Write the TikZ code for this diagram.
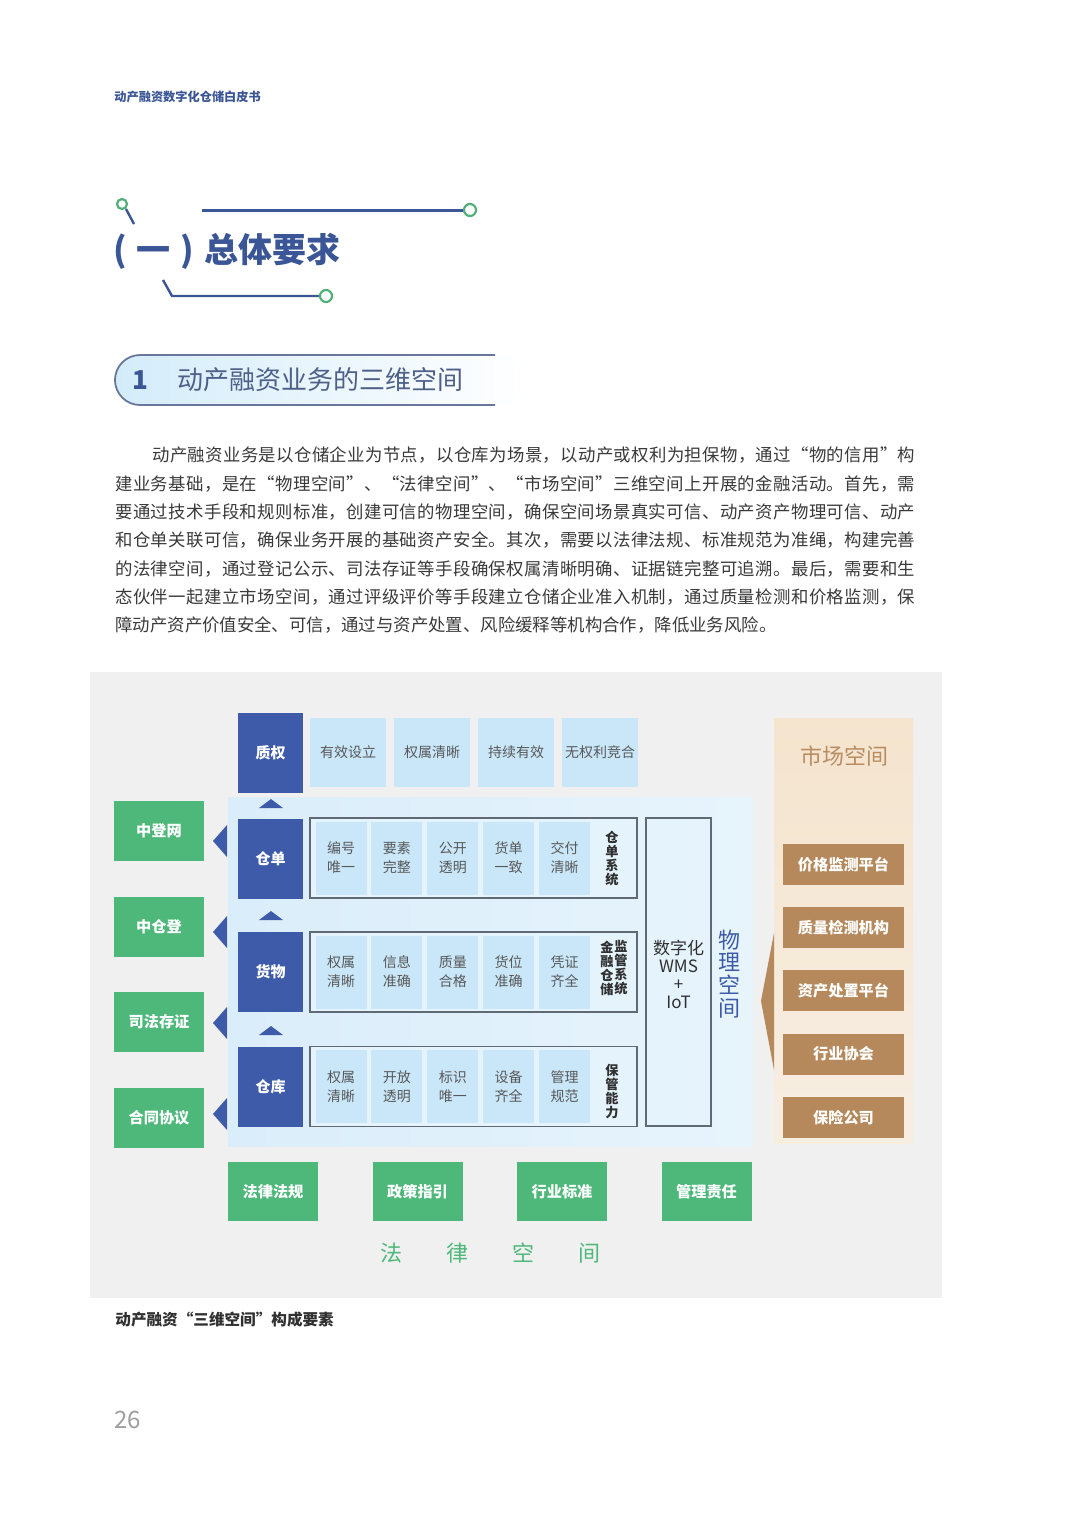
\documentclass[tikz,border=0pt]{standalone}
\usepackage{fontspec}
\setmainfont{Noto Sans CJK SC}
\usetikzlibrary{positioning}

% colours
\definecolor{qblue}{RGB}{61,91,168}
\definecolor{qtitle}{RGB}{58,86,150}
\definecolor{qsec}{RGB}{78,96,136}
\definecolor{qgreen}{RGB}{77,184,122}
\definecolor{qring}{RGB}{80,176,120}
\definecolor{qbrown}{RGB}{181,137,92}
\definecolor{qbrowntxt}{RGB}{184,140,96}
\definecolor{qcell}{RGB}{201,231,249}
\definecolor{qpanelL}{RGB}{218,237,250}
\definecolor{qpanelR}{RGB}{231,244,252}
\definecolor{qinner}{RGB}{228,243,252}
\definecolor{qpeachT}{RGB}{245,228,206}
\definecolor{qpeachB}{RGB}{247,238,226}
\definecolor{qframe}{RGB}{96,106,116}
\definecolor{qbg}{RGB}{240,240,240}
\definecolor{qtext}{RGB}{58,58,58}
\definecolor{qcelltxt}{RGB}{88,88,88}
\definecolor{qdark}{RGB}{48,48,48}

% spread the characters of one line over a given width
\def\spreadrest#1{\ifx#1\relax\else\hfil#1\expandafter\spreadrest\fi}
\def\spreadfirst#1{#1\spreadrest}
\newcommand\spreadline[2]{\hbox to #1{\expandafter\spreadfirst#2\relax}}

\begin{document}
\begin{tikzpicture}[x=0.5pt, y=-0.5pt,
  layerbox/.style={fill=qblue, text=white, font=\bfseries\fontsize{7.5}{9}\selectfont,
    minimum width=32.5pt, minimum height=40pt, inner sep=0pt},
  topcell/.style={fill=qcell, text=qcelltxt, font=\fontsize{7}{9}\selectfont,
    minimum width=38pt, minimum height=34.5pt, inner sep=0pt},
  cell/.style={fill=qcell, text=qcelltxt, font=\fontsize{7}{9.5}\selectfont, align=center,
    minimum width=25.5pt, minimum height=36.5pt, inner sep=0pt},
  rowframe/.style={draw=qframe, line width=0.8pt, fill=qinner,
    minimum width=163.5pt, minimum height=40pt, inner sep=0pt},
  vlabel/.style={text=qdark, font=\bfseries\fontsize{6.6}{7}\selectfont, align=center, inner sep=0pt},
  legalbox/.style={fill=qgreen, text=white, font=\bfseries\fontsize{7.6}{9}\selectfont,
    minimum width=45pt, minimum height=30pt, inner sep=0pt},
  marketbox/.style={fill=qbrown, text=white, font=\bfseries\fontsize{7.6}{9}\selectfont,
    minimum width=60.5pt, minimum height=20.5pt, inner sep=0pt},
  para/.style={anchor=west, inner sep=0pt, text=qtext, font=\fontsize{8.7}{10}\selectfont},
  node distance=10.7pt
]
  \useasboundingbox[fill=white] (0,0) rectangle (1080,1528);

  % page header
  \node[anchor=west, inner sep=0pt, text=qtitle, font=\bfseries\fontsize{6.1}{8}\selectfont]
    (header) at (114,97) {动产融资数字化仓储白皮书};

  % chapter title with its two rails
  \draw[qtitle, line width=1.2pt] (126,209) -- (134,224);
  \draw[qring, line width=1.1pt, fill=white] (122,204) circle[radius=5];
  \draw[qtitle, line width=1.5pt] (202,210) -- (464,210);
  \draw[qring, line width=1.1pt, fill=white] (470,210) circle[radius=6];
  \draw[qtitle, line width=1.2pt] (163,280) -- (172,296) -- (320,296);
  \draw[qring, line width=1.1pt, fill=white] (326,296) circle[radius=6];
  \node[anchor=west, inner sep=0pt, text=qtitle, font=\bfseries\fontsize{17}{20}\selectfont]
    (title) at (113,251) {(\hspace{5pt}一\hspace{5pt})\hspace{5pt}总体要求};

  % section pill
  \shade[rounded corners=12.5pt, left color=qcell!80!white, right color=white]
    (115,355) rectangle (525,405);
  \draw[qsec!85, line width=0.9pt, rounded corners=12.5pt]
    (495,355) -- (115,355) -- (115,405) -- (495,405);
  \node[text=qtitle, font=\bfseries\fontsize{13}{15}\selectfont] (secnum) at (140,380) {1};
  \node[anchor=west, inner sep=0pt, text=qsec, font=\fontsize{13}{15}\selectfont]
    (sectitle) at (177,380) {动产融资业务的三维空间};

  % body text, one node for each printed line
  \node[para] (line1) at (152,455) {\spreadline{381.5pt}{动产融资业务是以仓储企业为节点，以仓库为场景，以动产或权利为担保物，通过“物的信用”构}};
  \foreach \y/\txt [count=\i from 2] in {
      484/建业务基础，是在“物理空间”、“法律空间”、“市场空间”三维空间上开展的金融活动。首先，需,
      512/要通过技术手段和规则标准，创建可信的物理空间，确保空间场景真实可信、动产资产物理可信、动产,
      540/和仓单关联可信，确保业务开展的基础资产安全。其次，需要以法律法规、标准规范为准绳，构建完善,
      569/的法律空间，通过登记公示、司法存证等手段确保权属清晰明确、证据链完整可追溯。最后，需要和生,
      597/态伙伴一起建立市场空间，通过评级评价等手段建立仓储企业准入机制，通过质量检测和价格监测，保}
    \node[para] (line\i) at (115,\y) {\spreadline{400pt}{\txt}};
  \node[para] (line7) at (115,625) {障动产资产价值安全、可信，通过与资产处置、风险缓释等机构合作，降低业务风险。};

  % figure background, physical and market panels
  \fill[qbg] (90,672) rectangle (942,1298);
  \shade[left color=qpanelL, right color=qpanelR] (228,797) rectangle (753,1146);
  \shade[top color=qpeachT, bottom color=qpeachB] (774,718) rectangle (913,1143);

  % pledge row
  \node[layerbox] (zhiquan) at (270.5,752.5) {质权};
  \foreach \txt [count=\i] in {有效设立, 权属清晰, 持续有效, 无权利竞合}
    \node[topcell] (zq\i) at ({348+84*(\i-1)},752.5) {\txt};

  % warehouse receipt, goods and warehouse rows
  \node[layerbox] (cangdan) at (270.5,858.5) {仓单};
  \node[layerbox] (huowu) at (270.5,972) {货物};
  \node[layerbox] (cangku) at (270.5,1086.5) {仓库};
  \node[rowframe] (fcd) at (473.5,858) {};
  \node[rowframe] (fhw) at (473.5,972) {};
  \node[rowframe] (fck) at (473.5,1086.5) {};
  \foreach \a/\b [count=\i] in {编号/唯一, 要素/完整, 公开/透明, 货单/一致, 交付/清晰}
    \node[cell] (cd\i) at ({341+55.9*(\i-1)},858) {\a\\\b};
  \foreach \a/\b [count=\i] in {权属/清晰, 信息/准确, 质量/合格, 货位/准确, 凭证/齐全}
    \node[cell] (hw\i) at ({341+55.9*(\i-1)},972) {\a\\\b};
  \foreach \a/\b [count=\i] in {权属/清晰, 开放/透明, 标识/唯一, 设备/齐全, 管理/规范}
    \node[cell] (ck\i) at ({341+55.9*(\i-1)},1086.5) {\a\\\b};
  \node[vlabel] (cdsys) at (612,859) {仓\\单\\系\\统};
  \node[vlabel] (hwsysA) at (607,968) {金\\融\\仓\\储};
  \node[vlabel] (hwsysB) at (621,968) {监\\管\\系\\统};
  \node[vlabel] (cksys) at (612,1091.5) {保\\管\\能\\力};

  % arrow marks between the rows
  \foreach \ty in {799, 911, 1026}
    \fill[qblue] (259,\ty+9) -- (283,\ty+9) -- (271,\ty) -- cycle;

  % WMS column and physical space label
  \node[draw=qframe, line width=0.8pt, minimum width=32.5pt, minimum height=154pt, inner sep=0pt]
    (wms) at (678.5,972) {};
  \node[text=qdark, font=\fontsize{8.5}{9}\selectfont, align=center, inner sep=0pt]
    (wmstxt) at (678.5,974) {数字化\\WMS\\+\\IoT};
  \node[text=qblue, font=\fontsize{11}{11.4}\selectfont, align=center, inner sep=0pt]
    (physical) at (729,974) {物\\理\\空\\间};

  % market space
  \node[text=qbrowntxt, font=\fontsize{11}{13}\selectfont] (markettitle) at (844,756) {市场空间};
  \node[marketbox] (m1) at (843.5,864.5) {价格监测平台};
  \node[marketbox, below=of m1] (m2) {质量检测机构};
  \node[marketbox, below=of m2] (m3) {资产处置平台};
  \node[marketbox, below=of m3] (m4) {行业协会};
  \node[marketbox, below=of m4] (m5) {保险公司};
  \fill[qbrown] (774,933) -- (774,1070) -- (761,1001) -- cycle;

  % legal space, left column
  \node[legalbox] (zdw) at (159,831) {中登网};
  \node[legalbox, below=17.4pt of zdw] (zcd) {中仓登};
  \node[legalbox, below=17.4pt of zcd] (sfcz) {司法存证};
  \node[legalbox, below=17.4pt of sfcz] (htxy) {合同协议};
  \foreach \ty in {841, 932, 1023, 1114}
    \fill[qblue] (227,\ty-16) -- (227,\ty+16) -- (213,\ty) -- cycle;

  % legal space, bottom row
  \foreach \txt [count=\i] in {法律法规, 政策指引, 行业标准, 管理责任}
    \node[legalbox, minimum height=29.5pt] (lg\i) at ({273+144.5*(\i-1)},1191.5) {\txt};
  \node[text=qgreen, font=\fontsize{11}{13}\selectfont] (legaltitle) at (490,1253)
    {法\hspace{22pt}律\hspace{22pt}空\hspace{22pt}间};

  % caption and page number
  \node[anchor=west, inner sep=0pt, text=qdark, font=\bfseries\fontsize{7.8}{10}\selectfont]
    (caption) at (115,1320) {动产融资“三维空间”构成要素};
  \node[anchor=west, inner sep=0pt, text=black!38, font=\fontsize{12}{14}\selectfont]
    (pagenum) at (114,1420) {26};
\end{tikzpicture}
\end{document}
